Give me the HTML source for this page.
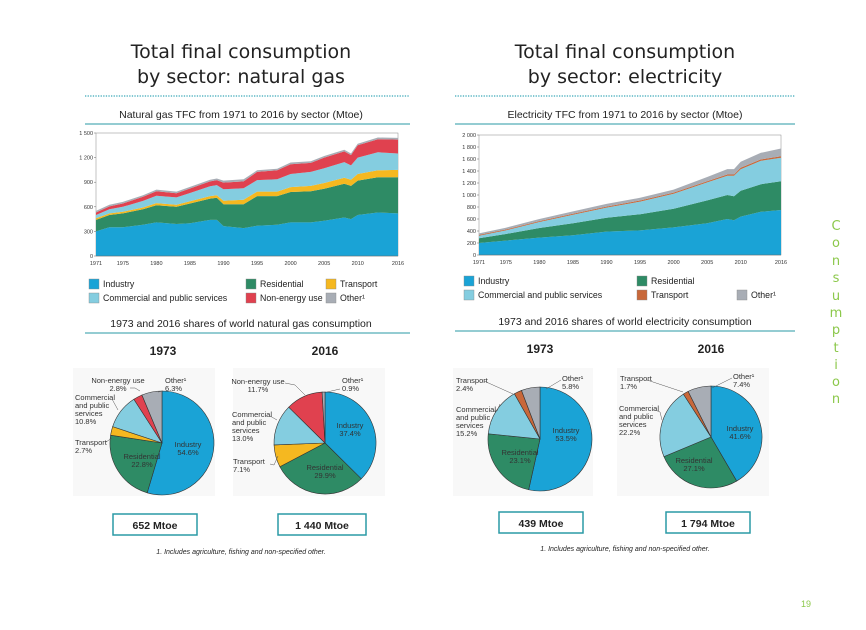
<!DOCTYPE html>
<html><head><meta charset="utf-8">
<style>
body{margin:0;background:#fff;}
svg{display:block;font-family:"Liberation Sans",sans-serif;}
</style></head>
<body>
<svg id="c" width="866" height="630" viewBox="0 0 866 630" xmlns="http://www.w3.org/2000/svg">
<g font-family="DejaVu Sans, Liberation Sans, sans-serif" font-size="19" fill="#222" text-anchor="middle">
<text x="241" y="58">Total final consumption</text><text x="241" y="83">by sector: natural gas</text></g>
<g font-family="DejaVu Sans, Liberation Sans, sans-serif" font-size="19" fill="#222" text-anchor="middle">
<text x="625" y="58">Total final consumption</text><text x="625" y="83">by sector: electricity</text></g>
<line x1="85" y1="96" x2="410" y2="96" stroke="#3aa8b8" stroke-width="1.3" stroke-dasharray="1.3 1.3"/>
<line x1="455" y1="96" x2="795" y2="96" stroke="#3aa8b8" stroke-width="1.3" stroke-dasharray="1.3 1.3"/>
<text x="241" y="118" font-size="10.5" text-anchor="middle" fill="#222">Natural gas TFC from 1971 to 2016 by sector (Mtoe)</text>
<text x="625" y="118" font-size="10.5" text-anchor="middle" fill="#222">Electricity TFC from 1971 to 2016 by sector (Mtoe)</text>
<line x1="85" y1="124" x2="410" y2="124" stroke="#2a9aa5" stroke-width="1"/>
<line x1="455" y1="124" x2="795" y2="124" stroke="#2a9aa5" stroke-width="1"/>
<text x="241" y="327" font-size="10.5" text-anchor="middle" fill="#222">1973 and 2016 shares of world natural gas consumption</text>
<text x="625" y="325" font-size="10.5" text-anchor="middle" fill="#222">1973 and 2016 shares of world electricity consumption</text>
<line x1="85" y1="333" x2="410" y2="333" stroke="#2a9aa5" stroke-width="1"/>
<line x1="455" y1="331" x2="795" y2="331" stroke="#2a9aa5" stroke-width="1"/>
<g id="gasChart"></g>
<g id="elecChart"></g>
<g id="pies"></g>
<g font-size="12" font-weight="bold" text-anchor="middle" fill="#222">
<text x="163" y="355">1973</text><text x="325" y="355">2016</text><text x="540" y="353">1973</text><text x="711" y="353">2016</text></g>
<g font-size="10.5" font-weight="bold" text-anchor="middle" fill="#222">
<rect x="113" y="514" width="84" height="21" fill="#fff" stroke="#2a9aa5" stroke-width="1.5"/><text x="155" y="529">652 Mtoe</text>
<rect x="278" y="514" width="88" height="21" fill="#fff" stroke="#2a9aa5" stroke-width="1.5"/><text x="322" y="529">1 440 Mtoe</text>
<rect x="499" y="512" width="84" height="21" fill="#fff" stroke="#2a9aa5" stroke-width="1.5"/><text x="541" y="527">439 Mtoe</text>
<rect x="666" y="512" width="84" height="21" fill="#fff" stroke="#2a9aa5" stroke-width="1.5"/><text x="708" y="527">1 794 Mtoe</text></g>
<text x="241" y="554" font-size="7" font-style="italic" text-anchor="middle" fill="#222">1. Includes agriculture, fishing and non-specified other.</text>
<text x="625" y="551" font-size="7" font-style="italic" text-anchor="middle" fill="#222">1. Includes agriculture, fishing and non-specified other.</text>
<g font-family="DejaVu Sans, sans-serif" font-size="13" fill="#8cc84b" text-anchor="middle">
<text x="836" y="230">C</text><text x="836" y="247">o</text><text x="836" y="265">n</text><text x="836" y="282">s</text><text x="836" y="300">u</text><text x="836" y="317">m</text><text x="836" y="334">p</text><text x="836" y="352">t</text><text x="836" y="369">i</text><text x="836" y="386">o</text><text x="836" y="403">n</text></g>
<text x="806" y="607" font-size="9" fill="#8cc84b" text-anchor="middle">19</text>
</svg>
<script>
const NS="http://www.w3.org/2000/svg";
const C={ind:"#1aa3d6",res:"#2e8b65",tra:"#f5b820",com:"#84cde0",non:"#e0414f",oth:"#a8adb5",etra:"#c8683a"};
// Natural gas data (Mtoe)
const gasYears=[1971,1973,1975,1978,1980,1983,1985,1988,1989,1990,1993,1995,1998,2000,2003,2005,2008,2009,2010,2013,2016];
const gasIndustry=[300,350,350,380,410,390,400,440,440,365,340,370,380,410,410,430,470,450,500,530,520];
const gasResidential=[140,150,170,190,210,210,240,260,270,265,290,360,350,370,380,390,410,405,420,430,440];
const gasTransport=[20,20,20,22,25,25,28,30,30,45,55,55,55,60,65,70,75,75,80,85,90];
const gasCommercial=[40,50,60,80,90,90,100,120,125,140,140,140,150,160,170,180,190,175,200,220,200];
const gasNonEnergy=[30,35,40,50,55,50,55,60,60,80,85,100,110,120,110,130,130,125,150,160,170];
const gasOther=[20,20,20,20,20,20,20,20,20,25,25,20,20,20,20,20,20,20,20,20,20];
const gasTicks=[0,300,600,900,1200,1500];
const gasTickLabels=["0","300","600","900","1 200","1 500"];
// Electricity data (Mtoe)
const elecYears=[1971,1975,1980,1985,1990,1995,2000,2005,2008,2009,2010,2013,2016];
const elecIndustry=[200,240,290,330,390,410,460,530,600,580,640,720,750];
const elecResidential=[80,110,160,200,230,270,310,380,400,400,430,460,480];
const elecCommercial=[40,60,100,140,170,210,250,300,320,340,360,390,390];
const elecTransport=[15,15,15,16,17,18,20,20,22,22,23,24,25];
const elecOther=[25,30,35,40,45,45,50,70,90,90,100,110,130];
const elecTicks=[0,200,400,600,800,1000,1200,1400,1600,1800,2000];
const elecTickLabels=["0","200","400","600","800","1 000","1 200","1 400","1 600","1 800","2 000"];
const xTickYears=[1971,1975,1980,1985,1990,1995,2000,2005,2010,2016];
// Pie shares (%)
const gas1973=[54.6,22.8,2.7,10.8,2.8,6.3];
const gas2016=[37.4,29.9,7.1,13.0,11.7,0.9];
const elec1973=[53.5,23.1,15.2,2.4,5.8];
const elec2016=[41.6,27.1,22.2,1.7,7.4];

function el(tag,attrs,parent){const e=document.createElementNS(NS,tag);for(const k in attrs)e.setAttribute(k,attrs[k]);parent.appendChild(e);return e;}

function areaChart(g,cfg){
  const {x0,x1,y0,y1,ymax,years,series,ticks,labels}=cfg;
  const sx=v=>x0+(v-1971)/(2016-1971)*(x1-x0);
  const sy=v=>y0-v/ymax*(y0-y1);
  const bg=el("rect",{x:x0,y:y1,width:x1-x0,height:y0-y1,fill:"#fff",stroke:"#888","stroke-width":0.5},g);
  
  
  let base=years.map(()=>0);
  series.forEach(s=>{
    const top=base.map((b,i)=>b+s.vals[i]);
    let d="M"+years.map((y,i)=>sx(y).toFixed(1)+","+sy(top[i]).toFixed(1)).join("L");
    for(let i=years.length-1;i>=0;i--)d+="L"+sx(years[i]).toFixed(1)+","+sy(base[i]).toFixed(1);
    const p=el("path",{d:d+"Z",fill:s.c},g);
    
    
    base=top;
  });
  ticks.forEach((t,i)=>{
    const tx=el("text",{x:x0-3,y:sy(t)+2,"font-size":5.5,"text-anchor":"end",fill:"#333"},g);
    tx.textContent=labels[i];
    
    
    el("line",{x1:x0-2,x2:x0,y1:sy(t),y2:sy(t),stroke:"#666","stroke-width":0.5},g);
  });
  xTickYears.forEach(yr=>{
    const tx=el("text",{x:sx(yr),y:y0+9,"font-size":5.5,"text-anchor":"middle",fill:"#333"},g);
    tx.textContent=yr;
    
    
  });
  el("line",{x1:x0,x2:x1,y1:y0,y2:y0,stroke:"#666","stroke-width":0.6},g);
}
areaChart(document.getElementById("gasChart"),{x0:96,x1:398,y0:256,y1:133,ymax:1500,years:gasYears,ticks:gasTicks,labels:gasTickLabels,
 series:[{n:"industry",c:C.ind,vals:gasIndustry},{n:"residential",c:C.res,vals:gasResidential},{n:"transport",c:C.tra,vals:gasTransport},{n:"commercial",c:C.com,vals:gasCommercial},{n:"non-energy",c:C.non,vals:gasNonEnergy},{n:"other",c:C.oth,vals:gasOther}]});
areaChart(document.getElementById("elecChart"),{x0:479,x1:781,y0:255,y1:135,ymax:2000,years:elecYears,ticks:elecTicks,labels:elecTickLabels,
 series:[{n:"industry",c:C.ind,vals:elecIndustry},{n:"residential",c:C.res,vals:elecResidential},{n:"commercial",c:C.com,vals:elecCommercial},{n:"transport",c:C.etra,vals:elecTransport},{n:"other",c:C.oth,vals:elecOther}]});

// legends
const svg=document.getElementById("c");
function legend(x,y,c,label){
  const g=el("g",{},svg);
  
  
  el("rect",{x:x,y:y-8,width:10,height:10,fill:c,stroke:"#888","stroke-width":0.4},g);
  const t=el("text",{x:x+14,y:y,"font-size":8.8,fill:"#222"},g);t.textContent=label;
}
legend(89,287,C.ind,"Industry");legend(246,287,C.res,"Residential");legend(326,287,C.tra,"Transport");
legend(89,301,C.com,"Commercial and public services");legend(246,301,C.non,"Non-energy use");legend(326,301,C.oth,"Other¹");
legend(464,284,C.ind,"Industry");legend(637,284,C.res,"Residential");
legend(464,298,C.com,"Commercial and public services");legend(637,298,C.etra,"Transport");legend(737,298,C.oth,"Other¹");

// pies
const P=document.getElementById("pies");
[[73,368,142,128],[233,368,152,128],[453,368,140,128],[617,368,152,128]].forEach(b=>{
  const r=el("rect",{x:b[0],y:b[1],width:b[2],height:b[3],fill:"#f8f8f8"},P);
  
  
});
function pie(cx,cy,r,vals,cols,name){
  const g=el("g",{},P);
  
  
  const tot=vals.reduce((a,b)=>a+b,0);let a=0;
  vals.forEach((v,i)=>{
    const a0=a/tot*2*Math.PI,a1=(a+v)/tot*2*Math.PI;a+=v;
    const p0=[cx+r*Math.sin(a0),cy-r*Math.cos(a0)],p1=[cx+r*Math.sin(a1),cy-r*Math.cos(a1)];
    const s=el("path",{d:`M${cx},${cy}L${p0[0].toFixed(2)},${p0[1].toFixed(2)}A${r},${r} 0 ${a1-a0>Math.PI?1:0} 1 ${p1[0].toFixed(2)},${p1[1].toFixed(2)}Z`,fill:cols[i],stroke:"#333","stroke-width":0.6},g);
    
    
  });
}
const gasCols=[C.ind,C.res,C.tra,C.com,C.non,C.oth];
const elecCols=[C.ind,C.res,C.com,C.etra,C.oth];
pie(162,443,52,gas1973,gasCols,"pie-gas-1973");
pie(325,443,51,gas2016,gasCols,"pie-gas-2016");
pie(540,439,52,elec1973,elecCols,"pie-elec-1973");
pie(711,437,51,elec2016,elecCols,"pie-elec-2016");

function lbl(x,y,lines,anchor,color){
  const t=el("text",{x:x,y:y,"font-size":7.5,"text-anchor":anchor||"start",fill:color||"#333"},P);
  
  
  lines.forEach((l,i)=>{const s=el("tspan",{x:x,dy:i?8:0},t);s.textContent=l;});
}
function lead(pts){el("polyline",{points:pts,fill:"none",stroke:"#555","stroke-width":0.5},P);}
// gas 1973
lbl(118,383,["Non-energy use",gas1973[4].toFixed(1)+"%"],"middle");lead("130,388 135,388 140,391");
lbl(165,383,["Other¹",gas1973[5]+"%"]);lead("163,391 158,392");
lbl(75,400,["Commercial","and public","services",gas1973[3]+"%"]);lead("112,399 118,410");
lbl(75,445,["Transport",gas1973[2]+"%"]);lead("106,442 112,438");
lbl(142,459,["Residential",gas1973[1]+"%"],"middle");
lbl(188,447,["Industry",gas1973[0]+"%"],"middle");
// gas 2016
lbl(258,384,["Non-energy use",gas2016[4]+"%"],"middle");lead("285,383 295,385 305,395");
lbl(342,383,["Other¹",gas2016[5]+"%"]);lead("340,389 327,392");
lbl(232,417,["Commercial","and public","services",gas2016[3].toFixed(1)+"%"]);lead("270,416 277,420");
lbl(233,464,["Transport",gas2016[2]+"%"]);lead("270,464 274,465 278,456");
lbl(325,470,["Residential",gas2016[1]+"%"],"middle");
lbl(350,428,["Industry",gas2016[0]+"%"],"middle");
// elec 1973
lbl(456,383,["Transport",elec1973[3]+"%"]);lead("484,381 513,394");
lbl(562,381,["Other¹",elec1973[4]+"%"]);lead("561,380 546,389");
lbl(456,412,["Commercial","and public","services",elec1973[2]+"%"]);lead("493,411 497,411 500,404");
lbl(520,455,["Residential",elec1973[1]+"%"],"middle");
lbl(566,433,["Industry",elec1973[0]+"%"],"middle");
// elec 2016
lbl(620,381,["Transport",elec2016[3]+"%"]);lead("647,380 683,392");
lbl(733,379,["Other¹",elec2016[4]+"%"]);lead("732,378 712,388");
lbl(619,411,["Commercial","and public","services",elec2016[2]+"%"]);lead("655,410 660,412 662,420");
lbl(694,463,["Residential",elec2016[1]+"%"],"middle");
lbl(740,431,["Industry",elec2016[0]+"%"],"middle");
</script>
</body></html>
